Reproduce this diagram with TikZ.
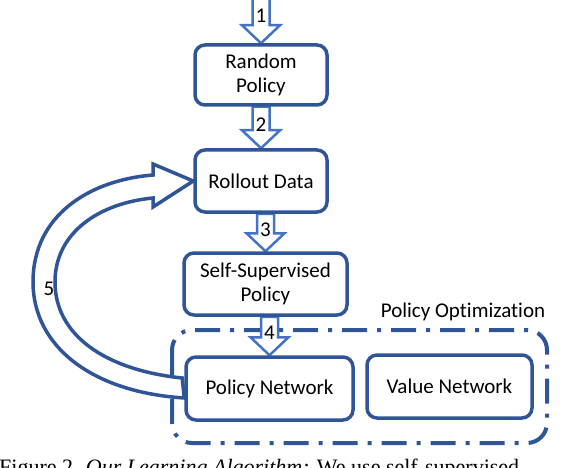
\documentclass[tikz,border=0pt]{standalone}
\usepackage{fontspec}
\setmainfont{Carlito}[RawFeature=-liga]
\newfontfamily\capfont{Liberation Serif}
\usetikzlibrary{calc}
\pgfdeclarelayer{bg}
\pgfsetlayers{bg,main}
\definecolor{dkblue}{HTML}{2F5597}
\definecolor{ltblue}{HTML}{4472C4}
\newcommand\blockarr[3]{%
  \draw[barrow] let \p1=(#1), \p2=(#2) in
    (\x2-8.5pt,\y1) -- (\x2-8.5pt,\y2+18pt) -- (\x2-19pt,\y2+18pt) -- (\x2,\y2)
    -- (\x2+19pt,\y2+18pt) -- (\x2+8.5pt,\y2+18pt) -- (\x2+8.5pt,\y1) -- cycle;
  \path let \p1=(#1), \p2=(#2) in
    node[num] at (\x2,{0.5*\y1+0.5*(\y2+18pt)-6pt}) {#3};
}
\begin{document}
\begin{tikzpicture}[x=1pt,y=-1pt,
  box/.style={draw=dkblue, line width=3.5pt, rounded corners=10pt, fill=white,
    align=center, font=\fontsize{21}{24}\selectfont, inner sep=0pt},
  barrow/.style={draw=ltblue, line width=2.5pt, fill=white, line join=miter},
  carrow/.style={draw=dkblue, line width=3.5pt, fill=white, line join=miter},
  num/.style={font=\fontsize{21}{24}\selectfont, inner sep=0pt},
  optbox/.style={draw=dkblue, line width=4pt, rounded corners=20pt,
    dash pattern=on 25pt off 10pt on 4pt off 10pt}]
\useasboundingbox (0,0) rectangle (584,468);
\clip (0,0) rectangle (584,468);

\node[box, minimum width=132pt, minimum height=60pt] (RP) at (261,75) {Random\\Policy};
\node[box, minimum width=132pt, minimum height=62pt] (RD) at (261,181) {Rollout Data};
\node[box, minimum width=163pt, minimum height=62pt] (SS) at (265.5,284) {Self-Supervised\\Policy};
\node[box, minimum width=167pt, minimum height=63pt] (PN) at (269.5,388.5) {Policy Network};
\node[box, minimum width=165pt, minimum height=63pt] (VN) at (449.5,386.5) {Value Network};
\node[num] (PO) at (463,312) {Policy Optimization};
\coordinate (top) at (261,-5);

\begin{pgfonlayer}{bg}
\draw[optbox] (172,330) rectangle (547,443);
\blockarr{top}{RP.north}{1}
\blockarr{RP.south}{RD.north}{2}
\blockarr{RD.south}{SS.north}{3}
\blockarr{SS.south}{PN.north}{4}
\draw[carrow] ($(PN.west)+(-2,-10.5)$) -- ($(PN.west)+(0,9.5)$)
  .. controls (90,392) and (33,345) .. (33,282)
  .. controls (33,215) and (90,180) .. (153,175)
  -- (153,164) -- (RD.west) -- (153,207) -- (153,198)
  .. controls (100,203) and (55,232) .. (55,282)
  .. controls (55,335) and (105,370) .. ($(PN.west)+(-2,-10.5)$) -- cycle;
\end{pgfonlayer}
\node[num] (n5) at (49,289) {5};

\node[anchor=base west, inner sep=0pt, font=\capfont\fontsize{22}{26}\selectfont] (cap)
  at (-1,474) {Figure 2. \textit{Our Learning Algorithm:} We use self-supervised};
\end{tikzpicture}
\end{document}
